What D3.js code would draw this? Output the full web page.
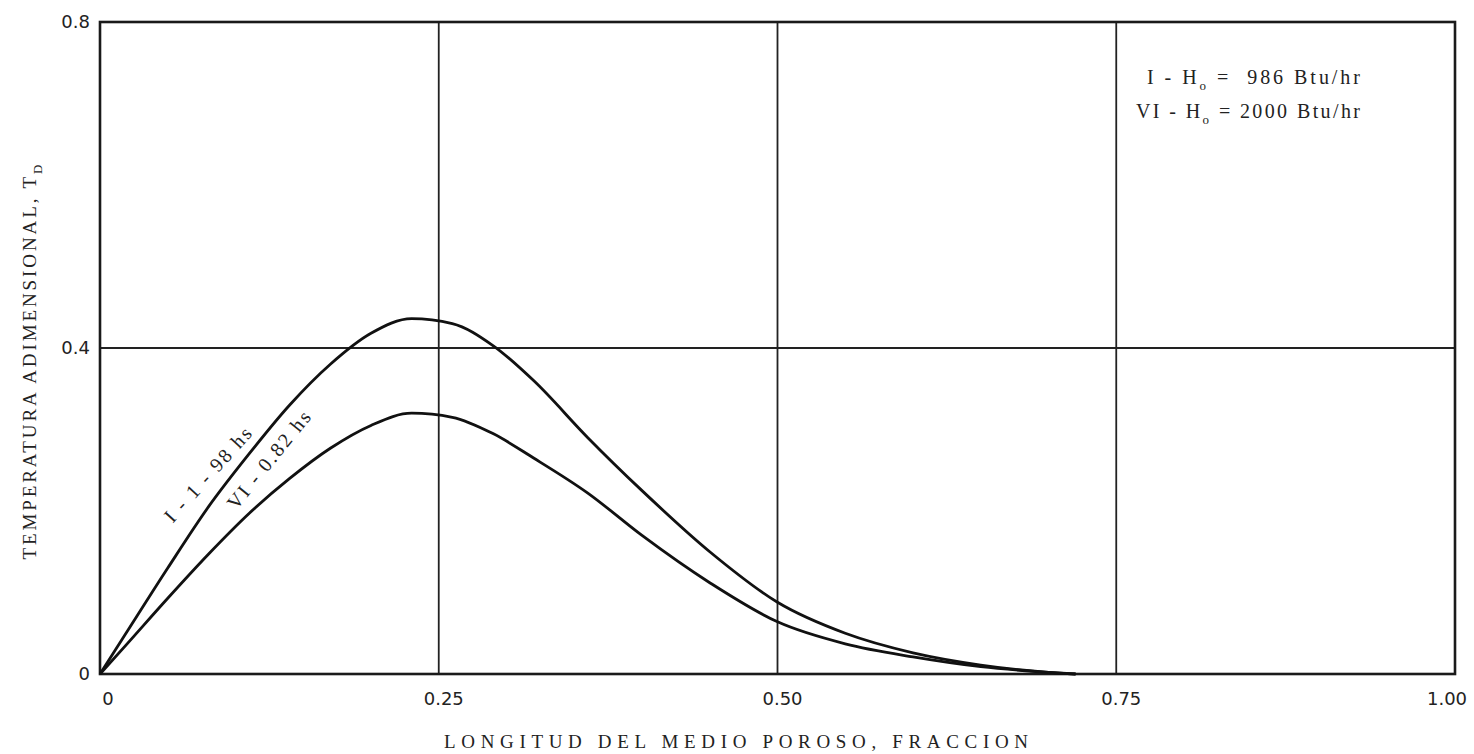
<!DOCTYPE html>
<html>
<head>
<meta charset="utf-8">
<script src="https://cdn.jsdelivr.net/npm/d3@7"></script>
<style>
  body { margin: 0; background: #fff; }
  svg { display: block; }
  .tick-label { font-family: "DejaVu Sans", sans-serif; font-size: 18px; fill: #222; }
  .title { font-family: "Liberation Serif", serif; font-size: 19px; fill: #222; }
  .note { font-family: "Liberation Serif", serif; font-size: 20px; fill: #222; }
</style>
</head>
<body>
<svg id="chart" width="1474" height="754"></svg>
<script>
// Data
const xPos = [0, 0.02, 0.05, 0.08, 0.11, 0.14, 0.17, 0.20, 0.23, 0.26, 0.29, 0.32, 0.36, 0.40, 0.45, 0.50, 0.55, 0.60, 0.65, 0.70, 0.72];
const tempI = [0, 0.052, 0.13, 0.205, 0.27, 0.33, 0.38, 0.418, 0.436, 0.43, 0.403, 0.36, 0.29, 0.225, 0.15, 0.088, 0.05, 0.026, 0.011, 0.002, 0];
const tempVI = [0, 0.037, 0.093, 0.147, 0.197, 0.24, 0.277, 0.305, 0.32, 0.315, 0.295, 0.265, 0.222, 0.17, 0.112, 0.064, 0.037, 0.021, 0.009, 0.002, 0];
const xTicks = [0, 0.25, 0.5, 0.75, 1.0];
const xTickLabels = ["0", "0.25", "0.50", "0.75", "1.00"];
const yTicks = [0, 0.4, 0.8];
const yTickLabels = ["0", "0.4", "0.8"];

const svg = d3.select("#chart");
const mLeft = 100, mRight = 1455, mTop = 22, mBottom = 674;

const x = d3.scaleLinear().domain([0, 1]).range([mLeft, mRight]);
const y = d3.scaleLinear().domain([0, 0.8]).range([mBottom, mTop]);

// Grid lines
svg.append("g").selectAll("line")
  .data(xTicks.slice(1, -1))
  .enter().append("line")
  .attr("x1", d => x(d)).attr("x2", d => x(d))
  .attr("y1", mTop).attr("y2", mBottom)
  .attr("stroke", "#222").attr("stroke-width", 1.8);

svg.append("g").selectAll("line")
  .data(yTicks.slice(1, -1))
  .enter().append("line")
  .attr("x1", mLeft).attr("x2", mRight)
  .attr("y1", d => y(d)).attr("y2", d => y(d))
  .attr("stroke", "#222").attr("stroke-width", 1.8);

// Frame
svg.append("rect")
  .attr("x", mLeft).attr("y", mTop)
  .attr("width", mRight - mLeft).attr("height", mBottom - mTop)
  .attr("fill", "none").attr("stroke", "#1a1a1a").attr("stroke-width", 2.6);

// Tick labels
svg.append("g").selectAll("text")
  .data(xTicks)
  .enter().append("text")
  .attr("class", "tick-label")
  .attr("x", (d, i) => x(d) + (i === 0 ? 8 : (i === xTicks.length - 1 ? -8 : 5)))
  .attr("y", 705)
  .attr("text-anchor", "middle")
  .text((d, i) => xTickLabels[i]);

svg.append("g").selectAll("text")
  .data(yTicks)
  .enter().append("text")
  .attr("class", "tick-label")
  .attr("x", mLeft - 10)
  .attr("y", d => y(d) + 6)
  .attr("text-anchor", "end")
  .text((d, i) => yTickLabels[i]);

// Curves
const line = d3.line()
  .x(d => x(d[0]))
  .y(d => y(d[1]))
  .curve(d3.curveMonotoneX);

[tempI, tempVI].forEach(series => {
  svg.append("path")
    .datum(xPos.map((v, i) => [v, series[i]]))
    .attr("fill", "none")
    .attr("stroke", "#111")
    .attr("stroke-width", 2.8)
    .attr("d", line);
});

// Curve labels
svg.append("text")
  .attr("class", "note")
  .attr("font-size", 19)
  .attr("transform", `translate(${x(0.08)},${y(0.244)}) rotate(-48)`)
  .attr("text-anchor", "middle")
  .attr("dy", 6)
  .attr("textLength", 120)
  .text("I - 1 - 98 hs");

svg.append("text")
  .attr("class", "note")
  .attr("font-size", 19)
  .attr("transform", `translate(${x(0.125)},${y(0.262)}) rotate(-51)`)
  .attr("text-anchor", "middle")
  .attr("dy", 6)
  .attr("textLength", 120)
  .text("VI - 0.82 hs");

// Legend
const legend = [
  { pre: "I - H", post: " =  986 Btu/hr", yy: 84, len: 213 },
  { pre: "VI - H", post: " = 2000 Btu/hr", yy: 118, len: 224 }
];
legend.forEach(l => {
  const t = svg.append("text").attr("class", "note")
    .attr("x", 1360).attr("y", l.yy).attr("text-anchor", "end")
    .attr("textLength", l.len)
    .attr("xml:space", "preserve");
  t.append("tspan").text(l.pre);
  t.append("tspan").attr("dy", 6).attr("font-size", 13).text("o");
  t.append("tspan").attr("dy", -6).text(l.post);
});

// Axis titles
svg.append("text")
  .attr("class", "title")
  .attr("x", 736).attr("y", 748)
  .attr("text-anchor", "middle")
  .attr("textLength", 584)
  .text("LONGITUD DEL MEDIO POROSO, FRACCION");

const yt = svg.append("text")
  .attr("class", "title")
  .attr("font-size", 18)
  .attr("transform", `translate(36,362) rotate(-90)`)
  .attr("text-anchor", "middle")
  .attr("textLength", 395);
yt.append("tspan").text("TEMPERATURA ADIMENSIONAL, T");
yt.append("tspan").attr("dy", 6).attr("font-size", 13).text("D");
</script>
</body>
</html>
